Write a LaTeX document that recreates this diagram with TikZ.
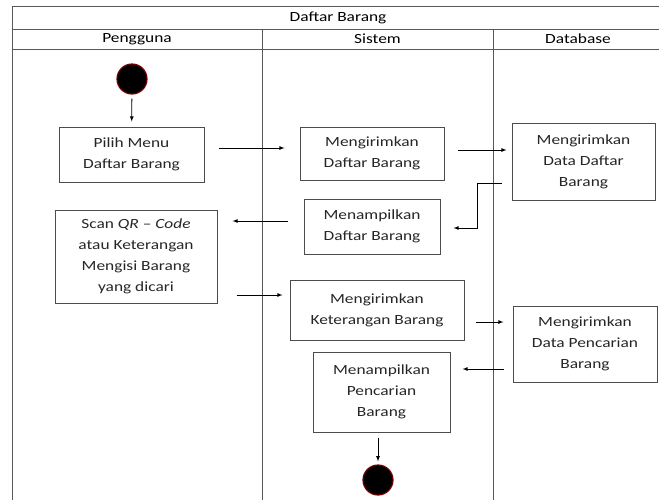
\documentclass[tikz,border=0pt]{standalone}
\usepackage{fontspec}
\setmainfont{Carlito}[FakeStretch=1.24]
\usetikzlibrary{positioning}

\begin{document}
\begin{tikzpicture}[x=1pt, y=-1pt, font=\fontsize{14}{21}\selectfont,
  lane/.style={draw=black!65, line width=0.9pt},
  act node/.style={rectangle, draw=black!70, line width=1pt, align=center, inner sep=0pt, text=black!85},
  term node/.style={circle, fill=black, draw=red!45!black, line width=1.2pt, minimum size=30pt, inner sep=0pt},
  flow/.style={->, >=latex, line width=0.8pt}]

\useasboundingbox (0,0) rectangle (659,499);
\clip (0,0) rectangle (659,499);

\draw[lane] (12,6) rectangle (664,520);
\draw[lane] (12,29) -- (664,29);
\draw[lane] (12,49) -- (664,49);
\draw[lane] (262,29) -- (262,520);
\draw[lane] (493,29) -- (493,520);

\node (title) at (338,17.5) {Daftar Barang};
\node (hpeng) at (137,39) {Pengguna};
\node (hsis) at (377.5,39) {Sistem};
\node (hdb) at (578,39) {Database};

\node[term node] (start) at (132,79) {};
\node[act node, minimum width=145pt, minimum height=55pt] (pilih) at (131.5,154.5) {Pilih Menu\\Daftar Barang};
\node[act node, minimum width=144pt, minimum height=53pt] (kirim1) at (372,153.5) {Mengirimkan\\Daftar Barang};
\node[act node, minimum width=143pt, minimum height=77pt] (data1) at (583.5,161.5) {Mengirimkan\\Data Daftar\\Barang};
\node[act node, minimum width=136pt, minimum height=55pt] (tampil1) at (372,226.5) {Menampilkan\\Daftar Barang};
\node[act node, minimum width=162pt, minimum height=93pt] (scan) at (136,256.5) {Scan \textit{QR} -- \textit{Code}\\atau Keterangan\\Mengisi Barang\\yang dicari};
\node[act node, minimum width=174pt, minimum height=60pt] (ket) at (377,310) {Mengirimkan\\Keterangan Barang};
\node[act node, minimum width=144pt, minimum height=76pt] (data2) at (585,344) {Mengirimkan\\Data Pencarian\\Barang};
\node[act node, minimum width=137pt, minimum height=80pt] (tampil2) at (381.5,392) {Menampilkan\\Pencarian\\Barang};
\node[term node] (end) at (378,480) {};

\draw[flow, shorten <=4pt, shorten >=5pt] (start) -- (pilih);
\draw[flow, shorten <=14pt, shorten >=15pt] ([yshift=6.5pt]pilih.east) -- ([yshift=6.5pt]pilih.east -| kirim1.west);
\draw[flow, shorten <=13pt, shorten >=5pt] ([yshift=3.5pt]kirim1.east) -- ([yshift=3.5pt]kirim1.east -| data1.west);
\draw[flow, shorten <=10pt, shorten >=13pt] ([yshift=-21.5pt]data1.west) -- ++(-34pt,0) |- ([yshift=-1.5pt]tampil1.east);
\draw[flow, shorten <=16pt, shorten >=15pt] ([yshift=5.5pt]tampil1.west) -- ([yshift=5.5pt]tampil1.west -| scan.east);
\draw[flow, shorten <=19pt, shorten >=7pt] ([yshift=-38.5pt]scan.east) -- ([yshift=-38.5pt]scan.east -| ket.west);
\draw[flow, shorten <=11pt, shorten >=9pt] ([yshift=-12pt]ket.east) -- ([yshift=-12pt]ket.east -| data2.west);
\draw[flow, shorten <=9pt, shorten >=12pt] ([yshift=-25pt]data2.west) -- ([yshift=-25pt]data2.west -| tampil2.east);
\draw[flow, shorten <=5pt, shorten >=3pt] ([xshift=-3.5pt]tampil2.south) -- ([xshift=-3.5pt]tampil2.south |- end.north);

\end{tikzpicture}
\end{document}
